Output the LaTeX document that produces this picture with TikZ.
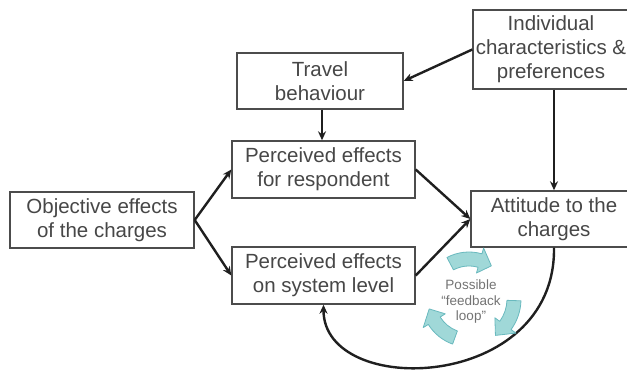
\documentclass[tikz,border=0pt]{standalone}
\usepackage{fontspec}
\setmainfont{Liberation Sans}
\usetikzlibrary{arrows.meta}
\definecolor{txt}{gray}{0.28}
\definecolor{fbfill}{RGB}{160,216,216}
\definecolor{fbdraw}{RGB}{105,185,190}
\tikzset{
  box/.style={draw=black!70, line width=1.4pt, fill=white, text=txt, align=center,
    font=\fontsize{20.5}{24}\selectfont, inner sep=0pt},
  conn/.style={line width=2.4pt, draw=black!88, -{Stealth[length=9pt,width=8pt]}},
  fbarr/.style={fill=fbfill, draw=fbdraw, line width=0.8pt, line join=round}
}
\begin{document}
\begin{tikzpicture}[x=1pt,y=1pt]
\useasboundingbox (0,0) rectangle (627,370);
\clip (0,0) rectangle (627,370);
% boxes
\node[box, minimum width=184pt, minimum height=56pt] (obj) at (102,150) {Objective effects\\of the charges};
\node[box, minimum width=166pt, minimum height=56pt] (trav) at (320,289) {Travel\\behaviour};
\node[box, minimum width=183pt, minimum height=57pt] (resp) at (323.5,200.5) {Perceived effects\\for respondent};
\node[box, minimum width=183pt, minimum height=57pt] (sys) at (323.5,94.5) {Perceived effects\\on system level};
\node[box, minimum width=166pt, minimum height=79pt] (ind) at (556,320.5) {};
\node[text=txt, align=center, font=\fontsize{20.5}{24}\selectfont, inner sep=0pt] (indt) at (551,320.5) {Individual\\characteristics \&\\preferences};
\node[box, minimum width=166pt, minimum height=56pt] (att) at (554,151) {Attitude to the\\charges};
% connectors
\draw[conn] (ind.west) -- (trav.east);
\draw[conn] (trav.south -| 322,0) -- (resp.north -| 322,0);
\draw[conn] (ind.south -| att.south) -- (att.north);
\draw[conn] (obj.east) -- (resp.west);
\draw[conn] (obj.east) -- (sys.west);
\draw[conn] (resp.east) -- (att.west);
\draw[conn] (sys.east) -- (att.west);
\draw[conn] (att.south) .. controls (556,-22) and (323.5,-29) .. (sys.south);
% feedback loop
\node[text=black!55, align=center, font=\fontsize{13.5}{15.5}\selectfont] (fb) at (471,68) {Possible\\“feedback\\loop”};
\begin{scope}[shift={(469,71)}]
\foreach \s/\e/\R in {118/56/40, -2/-54/45, -110/-166/41}{
  \filldraw[fbarr] ({\s}:{\R+7}) arc[start angle=\s, end angle={\e+18}, radius={\R+7}]
    -- ({\e+18}:{\R+13}) -- ({\e}:{\R}) -- ({\e+18}:{\R-13}) -- ({\e+18}:{\R-7})
    arc[start angle={\e+18}, end angle=\s, radius={\R-7}] -- cycle;
}
\end{scope}
\end{tikzpicture}
\end{document}
